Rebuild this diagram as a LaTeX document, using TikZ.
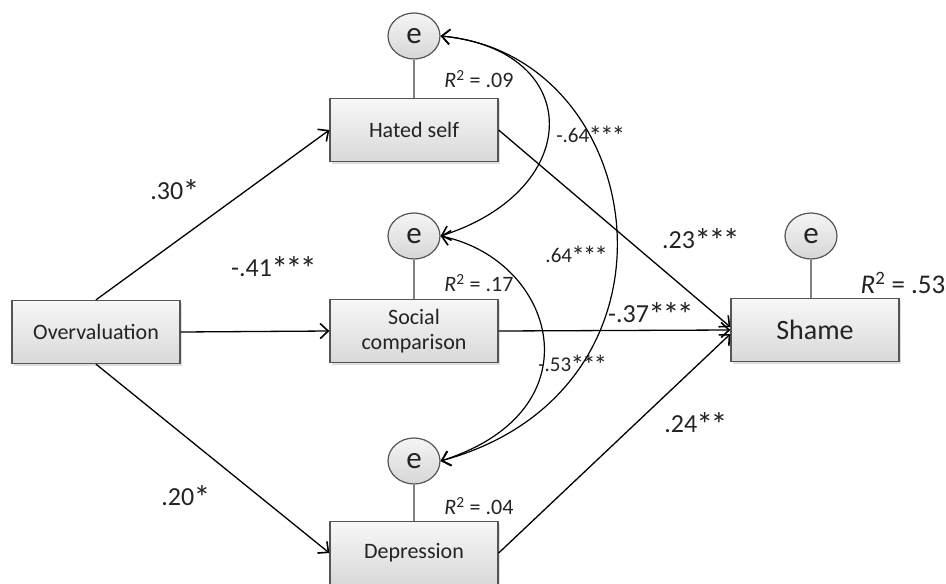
\documentclass[tikz,border=0pt]{standalone}
\usepackage{fontspec}
\usepackage{graphicx}
\setmainfont{Carlito}
\usetikzlibrary{arrows.meta,shapes.geometric,shadows}
\definecolor{boxborder}{RGB}{85,85,85}
\definecolor{txt}{RGB}{35,35,35}
\definecolor{linkgray}{RGB}{130,130,130}
\newcommand\sigast{\kern-0.03em\raisebox{-0.14em}{\scalebox{1.3}{*}}\kern-0.07em}
\begin{document}
\begin{tikzpicture}[x=1pt,y=-1pt,
  varbox/.style={draw=boxborder, line width=1.3pt, top color=gray!6, bottom color=gray!30,
    minimum width=168pt, minimum height=63pt, inner sep=0pt, align=center,
    font=\fontsize{22}{25}\selectfont, text=txt,
    drop shadow={shadow xshift=2pt,shadow yshift=-2pt,opacity=0.25}},
  errnode/.style={ellipse, draw=boxborder, line width=1.2pt, top color=gray!8, bottom color=gray!32,
    minimum width=52pt, minimum height=46pt, inner sep=0pt, text=txt,
    font=\fontsize{31}{32}\selectfont},
  errlink/.style={draw=linkgray, line width=2pt},
  patharrow/.style={line width=1.3pt, -{Straight Barb[length=8pt,width=15pt,line width=1.6pt]}},
  covarrow/.style={line width=1.2pt, {Straight Barb[length=8pt,width=15pt,line width=1.6pt]}-{Straight Barb[length=8pt,width=15pt,line width=1.6pt]}},
  coef/.style={font=\fontsize{26}{28}\selectfont, text=txt, inner sep=0pt},
  smallcoef/.style={font=\fontsize{21}{23}\selectfont, text=txt, inner sep=0pt},
  rsq/.style={font=\fontsize{22}{24}\selectfont, text=txt, inner sep=0pt},
  bigrsq/.style={font=\fontsize{27}{29}\selectfont, text=txt, inner sep=0pt}
]
\useasboundingbox (0,0) rectangle (946,584);

% boxes
\node[varbox] (ov) at (96,332) {Overvaluation};
\node[varbox] (hs) at (414,130) {Hated self};
\node[varbox] (sc) at (414,331) {Social\\comparison};
\node[varbox] (dep) at (414,553) {Depression};
\node[varbox, font=\fontsize{28}{30}\selectfont] (shame) at (815,330) {Shame};

% error terms
\node[errnode] (e1) at (414,36) {e};
\node[errnode] (e2) at (414,236) {e};
\node[errnode] (e3) at (414,461) {e};
\node[errnode] (e4) at (811,236) {e};

\draw[errlink] (e1) -- (hs);
\draw[errlink] (e2) -- (sc);
\draw[errlink] (e3) -- (dep);
\draw[errlink] (e4) -- (e4 |- shame.north);

% paths
\draw[patharrow] (ov.north) -- (hs.west);
\draw[patharrow] (ov.east) -- (sc.west);
\draw[patharrow] (ov.south) -- (dep.west);
\draw[patharrow] (hs.east) -- ([yshift=3pt]shame.west);
\draw[patharrow] (sc.east) -- (shame.west);
\draw[patharrow] (dep.east) -- ([yshift=-4pt]shame.west);

% covariances
\draw[covarrow] (e1.east) .. controls (585,50) and (585,190) .. (e2.east);
\draw[covarrow] (e1.east) .. controls (650,55) and (700,390) .. (e3.east);
\draw[covarrow] (e2.east) .. controls (555,260) and (600,410) .. (e3.east);

% coefficients
\node[coef] (c1) at (174,191) {.30\sigast};
\node[coef] (c2) at (273,268) {-.41\sigast\sigast\sigast};
\node[coef] (c3) at (185,497) {.20\sigast};
\node[coef] (c4) at (700,240) {.23\sigast\sigast\sigast};
\node[coef] (c5) at (650,314) {-.37\sigast\sigast\sigast};
\node[coef] (c6) at (695,424) {.24\sigast\sigast};
\node[smallcoef] (c7) at (590,136) {-.64\sigast\sigast\sigast};
\node[smallcoef] (c8) at (576,256) {.64\sigast\sigast\sigast};
\node[smallcoef] (c9) at (572,365) {-.53\sigast\sigast\sigast};

% R squared
\node[rsq] (r1) at (479,79) {\textit{R}\textsuperscript{2} = .09};
\node[rsq] (r2) at (479,283) {\textit{R}\textsuperscript{2} = .17};
\node[rsq] (r3) at (479,506) {\textit{R}\textsuperscript{2} = .04};
\node[bigrsq] (r4) at (903,283) {\textit{R}\textsuperscript{2} = .53};
\end{tikzpicture}
\end{document}
